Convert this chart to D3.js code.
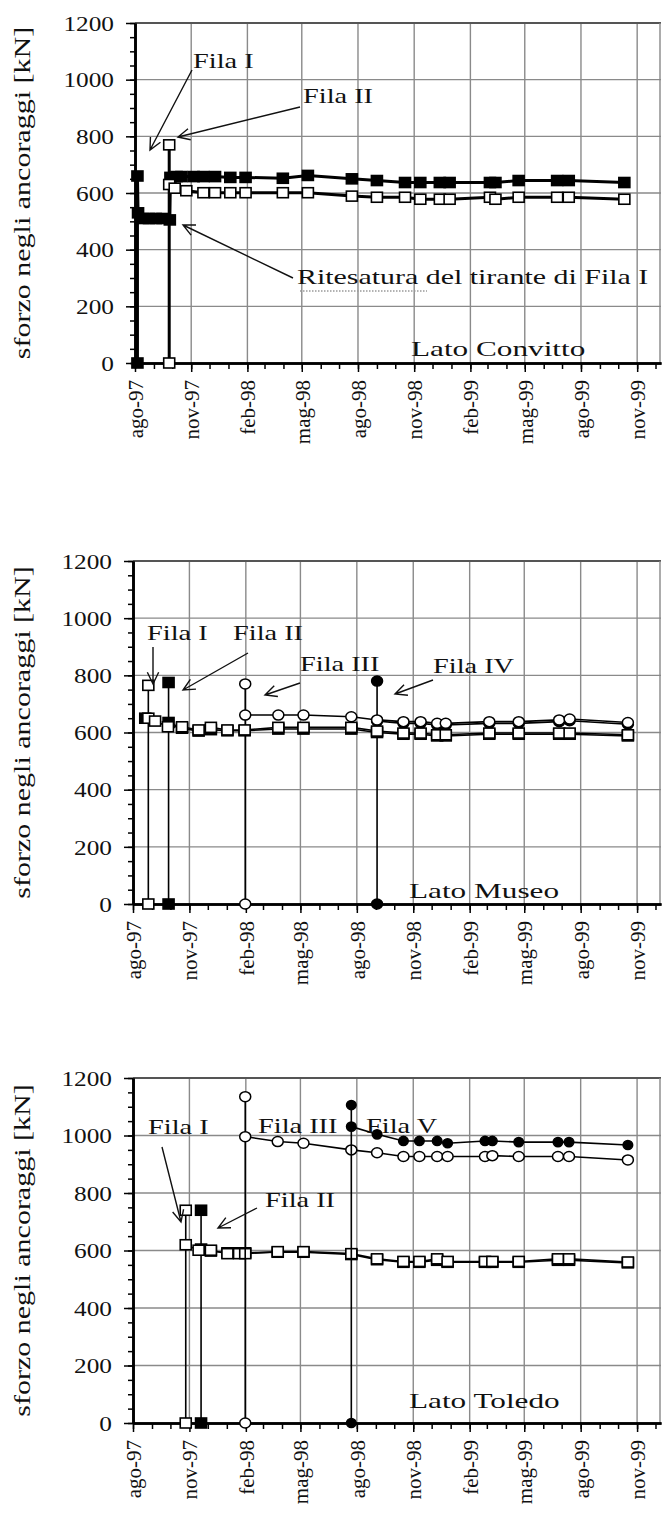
<!DOCTYPE html>
<html>
<head>
<meta charset="utf-8">
<script src="https://cdn.jsdelivr.net/npm/d3@7"></script>
<style>
  body { margin: 0; background: #fff; }
  svg text { font-family: "Liberation Serif", "Times New Roman", serif; fill: #111; }
</style>
</head>
<body>
<svg id="chart" width="662" height="1528"></svg>
<script>
const parse = d3.timeParse("%Y-%m-%d")

// x range and tick labels (Italian month abbreviations)
const xStart = "1997-08-01"
const xEnd = "1999-12-10"
const monthNames = ["gen","feb","mar","apr","mag","giu","lug","ago","set","ott","nov","dic"]
const majorTicks = ["1997-08-01","1997-11-01","1998-02-01","1998-05-01","1998-08-01",
  "1998-11-01","1999-02-01","1999-05-01","1999-08-01","1999-11-01"]
const yTicks = [0, 200, 400, 600, 800, 1000, 1200]
const yMinorTicks = [0,50,100,150,200,250,300,350,400,450,500,550,600,650,700,750,800,850,900,950,1000,1050,1100,1150,1200]
const yTitle = "sforzo negli ancoraggi [kN]"

// Lato Convitto
const convittoFilaI = [["1997-08-05",0],["1997-08-05",660],["1997-08-06",530],["1997-08-14",510],
  ["1997-08-24",510],["1997-09-04",510],["1997-09-15",510],["1997-09-27",505],["1997-09-28",655],
  ["1997-10-08",658],["1997-10-16",658],["1997-11-05",658],["1997-11-21",658],["1997-12-10",658],
  ["1998-01-04",655],["1998-01-29",655],["1998-03-31",652],["1998-05-11",662],["1998-07-22",650],
  ["1998-09-01",644],["1998-10-17",637],["1998-11-11",637],["1998-12-13",637],["1998-12-29",637],
  ["1999-03-05",637],["1999-03-14",637],["1999-04-21",644],["1999-06-23",644],["1999-07-12",644],
  ["1999-10-11",637]]
const convittoFilaII = [["1997-09-26",0],["1997-09-26",770],["1997-09-26",630],["1997-10-05",617],
  ["1997-10-24",608],["1997-11-21",601],["1997-12-10",601],["1998-01-04",601],["1998-01-29",601],
  ["1998-03-31",601],["1998-05-11",601],["1998-07-22",589],["1998-09-01",585],["1998-10-17",585],
  ["1998-11-11",578],["1998-12-13",578],["1998-12-29",578],["1999-03-05",585],["1999-03-14",578],
  ["1999-04-21",585],["1999-06-23",585],["1999-07-12",585],["1999-10-11",578]]

// Lato Museo
const museoFilaI = [["1997-08-26",0],["1997-08-26",765],["1997-08-26",650],["1997-09-06",640],
  ["1997-09-27",620],["1997-10-20",620],["1997-11-16",609],["1997-12-06",618],["1998-01-02",609],
  ["1998-01-30",609],["1998-03-26",618],["1998-05-06",618],["1998-07-23",618],["1998-09-03",605],
  ["1998-10-16",598],["1998-11-13",598],["1998-12-10",592],["1998-12-24",592],["1999-03-05",598],
  ["1999-04-22",598],["1999-06-27",598],["1999-07-14",598],["1999-10-17",592]]
const museoFilaII = [["1997-08-21",650],[null,null],["1997-09-28",0],["1997-09-28",775],
  ["1997-09-28",635],["1997-10-20",615],["1997-11-16",605],["1997-12-06",610],["1998-01-02",606],
  ["1998-01-30",606],["1998-03-26",612],["1998-05-06",612],["1998-07-23",612],["1998-09-03",600],
  ["1998-10-16",594],["1998-11-13",594],["1998-12-10",588],["1998-12-24",588],["1999-03-05",594],
  ["1999-04-22",594],["1999-06-27",594],["1999-07-14",594],["1999-10-17",588]]
const museoFilaIII = [["1998-01-31",0],["1998-01-31",770],["1998-01-31",661],["1998-03-26",661],
  ["1998-05-06",661],["1998-07-23",655],["1998-09-03",644],["1998-10-16",638],["1998-11-13",638],
  ["1998-12-10",632],["1998-12-24",632],["1999-03-05",638],["1999-04-22",638],["1999-06-27",644],
  ["1999-07-14",647],["1999-10-17",635]]
const museoFilaIV = [["1998-09-03",0],["1998-09-03",780],["1998-09-03",640],["1998-10-16",632],
  ["1998-11-13",632],["1998-12-10",626],["1998-12-24",626],["1999-03-05",632],["1999-04-22",632],
  ["1999-06-27",638],["1999-07-14",641],["1999-10-17",629]]

// Lato Toledo
const toledoFilaI = [["1997-10-26",0],["1997-10-26",740],["1997-10-26",620],["1997-11-16",601],
  ["1997-12-06",601],["1998-01-02",589],["1998-01-21",589],["1998-01-31",589],["1998-03-25",596],
  ["1998-05-06",596],["1998-07-23",589],["1998-09-03",571],["1998-10-16",562],["1998-11-11",562],
  ["1998-12-10",571],["1998-12-27",562],["1999-02-26",562],["1999-03-10",562],["1999-04-22",562],
  ["1999-06-25",571],["1999-07-13",571],["1999-10-17",560]]
const toledoFilaII = [["1997-11-20",0],["1997-11-20",740],["1997-11-20",605],["1997-12-06",598],
  ["1998-01-02",592],["1998-01-21",592],["1998-01-31",592],["1998-03-25",594],["1998-05-06",594],
  ["1998-07-23",586],["1998-09-03",568],["1998-10-16",559],["1998-11-11",559],["1998-12-10",566],
  ["1998-12-27",559],["1999-02-26",559],["1999-03-10",559],["1999-04-22",559],["1999-06-25",566],
  ["1999-07-13",566],["1999-10-17",557]]
const toledoFilaIII = [["1998-01-31",0],["1998-01-31",1135],["1998-01-31",996],["1998-03-25",979],
  ["1998-05-06",973],["1998-07-23",950],["1998-09-03",940],["1998-10-16",927],["1998-11-11",927],
  ["1998-12-10",927],["1998-12-27",927],["1999-02-26",927],["1999-03-10",930],["1999-04-22",927],
  ["1999-06-25",927],["1999-07-13",927],["1999-10-17",915]]
const toledoFilaV = [["1998-07-23",0],["1998-07-23",1106],["1998-07-23",1031],["1998-09-03",1004],
  ["1998-10-16",981],["1998-11-11",981],["1998-12-10",981],["1998-12-27",973],["1999-02-26",981],
  ["1999-03-10",981],["1999-04-22",977],["1999-06-25",977],["1999-07-13",977],["1999-10-17",967]]

const panels = [
  {top: 23, bottom: 363, left: 135, lineW: 3,
   series: [
     {data: convittoFilaI, shape: "square", fill: "#000"},
     {data: convittoFilaII, shape: "square", fill: "#fff"}],
   notes: [
     {t: "Fila I", x: 193, y: 68, big: false},
     {t: "Fila II", x: 303, y: 103, big: false},
     {t: "Ritesatura del tirante di Fila I", x: 297, y: 284, big: true, sx: 1.36, squiggle: [300, 427]},
     {t: "Lato Convitto", x: 411, y: 356, big: true}],
   arrows: [[192, 70, 150, 150], [300, 107, 178, 137], [293, 278, 183, 225]]},
  {top: 561, bottom: 904, left: 133, lineW: 1.6,
   series: [
     {data: museoFilaIV, shape: "circle", fill: "#000"},
     {data: museoFilaII, shape: "square", fill: "#000"},
     {data: museoFilaIII, shape: "circle", fill: "#fff"},
     {data: museoFilaI, shape: "square", fill: "#fff"}],
   notes: [
     {t: "Fila I", x: 147, y: 640},
     {t: "Fila II", x: 233, y: 640},
     {t: "Fila III", x: 300, y: 671},
     {t: "Fila IV", x: 433, y: 673},
     {t: "Lato Museo", x: 409, y: 898, big: true}],
   arrows: [[153, 647, 153, 684], [248, 653, 183, 690], [300, 683, 265, 695], [433, 680, 395, 694]]},
  {top: 1078, bottom: 1423, left: 133, lineW: 1.6,
   series: [
     {data: toledoFilaII, shape: "square", fill: "#000"},
     {data: toledoFilaI, shape: "square", fill: "#fff"},
     {data: toledoFilaIII, shape: "circle", fill: "#fff"},
     {data: toledoFilaV, shape: "circle", fill: "#000", small: true}],
   notes: [
     {t: "Fila I", x: 148, y: 1134},
     {t: "Fila III", x: 258, y: 1133},
     {t: "Fila V", x: 366, y: 1133},
     {t: "Fila II", x: 265, y: 1207},
     {t: "Lato Toledo", x: 409, y: 1408, big: true}],
   arrows: [[162, 1147, 181, 1222], [257, 1208, 218, 1228]]}
]

const svg = d3.select("#chart")
const right = 661
const x0 = parse(xStart), x1 = parse(xEnd)
const majorDates = majorTicks.map(parse)

panels.forEach(p => {
  const x = d3.scaleTime().domain([x0, x1]).range([p.left, right])
  const y = d3.scaleLinear().domain([0, 1200]).range([p.bottom, p.top])
  const g = svg.append("g")

  // grid
  g.append("g").selectAll("line.h").data(yTicks.slice(1)).enter().append("line")
    .attr("x1", p.left).attr("x2", right).attr("y1", d => y(d)).attr("y2", d => y(d))
    .attr("stroke", "#8a8a8a").attr("stroke-width", 1.4)
  g.append("g").selectAll("line.v").data(majorDates.slice(1)).enter().append("line")
    .attr("x1", d => x(d)).attr("x2", d => x(d)).attr("y1", p.top).attr("y2", p.bottom)
    .attr("stroke", "#8a8a8a").attr("stroke-width", 1.4)
  g.append("line").attr("x1", p.left).attr("x2", right).attr("y1", p.top).attr("y2", p.top)
    .attr("stroke", "#555").attr("stroke-width", 2.2)
  g.append("line").attr("x1", right - 1).attr("x2", right - 1).attr("y1", p.top).attr("y2", p.bottom)
    .attr("stroke", "#888").attr("stroke-width", 1.4)

  // y axis: minor then major ticks
  g.append("g").attr("transform", `translate(${p.left},0)`)
    .call(d3.axisLeft(y).tickValues(yMinorTicks).tickSize(5).tickSizeOuter(0).tickFormat(""))
  const ya = g.append("g").attr("transform", `translate(${p.left},0)`)
    .call(d3.axisLeft(y).tickValues(yTicks).tickSize(9).tickSizeOuter(0).tickFormat(d3.format("d")))
  ya.selectAll("text").attr("font-size", 22).attr("fill", "#111")
    .attr("transform", "scale(1.15,1)").attr("x", -21 / 1.15).attr("dy", "0.33em")

  // x axis: monthly minor ticks, quarterly labelled ticks
  const xAxisY = p.bottom
  g.append("g").attr("transform", `translate(0,${xAxisY})`)
    .call(d3.axisBottom(x).tickValues(d3.timeMonth.range(x0, x1)).tickSize(6).tickSizeOuter(0).tickFormat(""))
  const xa = g.append("g").attr("transform", `translate(0,${xAxisY})`)
    .call(d3.axisBottom(x).tickValues(majorDates).tickSize(9).tickSizeOuter(0)
      .tickFormat(d => monthNames[d.getMonth()] + "-" + d3.timeFormat("%y")(d)))
  xa.selectAll("text").attr("font-size", 21).attr("fill", "#111")
    .attr("transform", "rotate(-90)").attr("text-anchor", "end")
    .attr("x", -17).attr("y", 0).attr("dy", "0.35em")

  g.selectAll(".domain").attr("stroke", "#000").attr("stroke-width", 2.6)
  g.selectAll(".tick line").attr("stroke", "#000").attr("stroke-width", 1.5)

  // y title
  g.append("text")
    .attr("transform", `translate(30,${(p.top + p.bottom) / 2}) rotate(-90) scale(1.25,1)`)
    .attr("text-anchor", "middle").attr("font-size", 24).text(yTitle)

  // series
  const line = d3.line().defined(d => d[0] != null)
    .x(d => x(parse(d[0]))).y(d => y(d[1]))
  p.series.forEach(s => {
    g.append("path").attr("d", line(s.data)).attr("fill", "none")
      .attr("stroke", "#000").attr("stroke-width", p.lineW)
    const pts = s.data.filter(d => d[0] != null)
    if (s.shape === "square") {
      g.append("g").selectAll("rect").data(pts).enter().append("rect")
        .attr("x", d => x(parse(d[0])) - 5.5).attr("y", d => y(d[1]) - 5)
        .attr("width", 11).attr("height", 10)
        .attr("fill", s.fill).attr("stroke", "#000").attr("stroke-width", 1.6)
    } else {
      g.append("g").selectAll("ellipse").data(pts).enter().append("ellipse")
        .attr("cx", d => x(parse(d[0]))).attr("cy", d => y(d[1]))
        .attr("rx", s.small ? 4.8 : 5.5).attr("ry", s.small ? 4.6 : 5)
        .attr("fill", s.fill).attr("stroke", "#000").attr("stroke-width", 1.5)
    }
  })

  // annotations
  p.notes.forEach(n => {
    const fs = n.big ? 22 : 21, sx = n.sx || (n.big ? 1.42 : 1.35)
    g.append("text").attr("transform", `translate(${n.x},${n.y}) scale(${sx},1)`)
      .attr("font-size", fs).text(n.t)
    if (n.squiggle) {
      g.append("line").attr("x1", n.squiggle[0]).attr("x2", n.squiggle[1])
        .attr("y1", n.y + 7).attr("y2", n.y + 7)
        .attr("stroke", "#999").attr("stroke-width", 1.5).attr("stroke-dasharray", "1.5,1.5")
    }
  })
  p.arrows.forEach(a => {
    const [ax1, ay1, ax2, ay2] = a
    const ang = Math.atan2(ay2 - ay1, ax2 - ax1), L = 13, w = 0.45
    g.append("path")
      .attr("d", `M${ax1},${ay1}L${ax2},${ay2}` +
        `M${ax2 - L * Math.cos(ang - w)},${ay2 - L * Math.sin(ang - w)}L${ax2},${ay2}` +
        `L${ax2 - L * Math.cos(ang + w)},${ay2 - L * Math.sin(ang + w)}`)
      .attr("fill", "none").attr("stroke", "#111").attr("stroke-width", 1.4)
  })
})
</script>
</body>
</html>
